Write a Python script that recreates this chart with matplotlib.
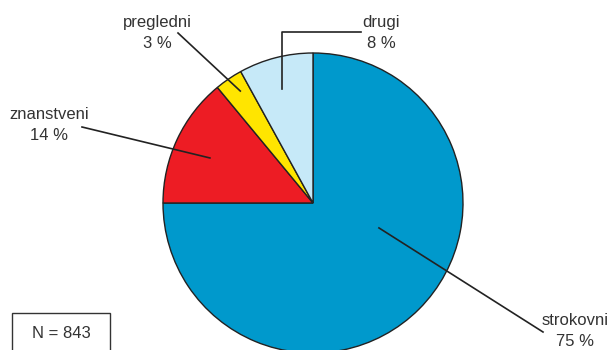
import numpy as np
import matplotlib.pyplot as plt
from matplotlib.patches import Rectangle

plt.rcParams['font.family'] = ['Liberation Sans', 'DejaVu Sans']

labels = ['strokovni', 'znanstveni', 'pregledni', 'drugi']
shares = [75, 14, 3, 8]
colors = ['#0099cc', '#ed1c24', '#ffe500', '#c6e9f8']
n_total = 843

# leader line anchors inside the pie (angle in deg, fraction of radius)
anchor_ang = [-20.7, 156.4, 123.0, 105.0]
anchor_r = [0.47, 0.75, 0.89, 0.79]
# label positions (pixels, y from bottom)
text_xy = [(575, 19), (49, 225), (157, 317), (381, 317)]

fig = plt.figure(figsize=(6.09, 3.5), dpi=100)
ax = fig.add_axes([0, 0, 1, 1])

cx, cy, R = 313, 147, 150
ax.pie(shares, colors=colors, startangle=90, counterclock=False,
       center=(cx, cy), radius=R, frame=True,
       wedgeprops=dict(edgecolor='#222222', linewidth=1.0))
ax.set_xlim(0, 609)
ax.set_ylim(0, 350)
ax.set_aspect('equal')
ax.axis('off')

for i, lab in enumerate(labels):
    a = np.deg2rad(anchor_ang[i])
    x0 = cx + anchor_r[i] * R * np.cos(a)
    y0 = cy + anchor_r[i] * R * np.sin(a)
    tx, ty = text_xy[i]
    ax.text(tx, ty, f'{lab}\n{shares[i]} %', ha='center', va='center',
            fontsize=12, color='#333333', linespacing=1.45)
    if lab == 'drugi':
        ax.plot([x0, x0, 361], [y0, 318, 318], color='#222222', lw=1.2)
    elif lab == 'pregledni':
        ax.plot([x0, 178], [y0, 317], color='#222222', lw=1.2)
    elif lab == 'znanstveni':
        ax.plot([x0, 82], [y0, 223], color='#222222', lw=1.2)
    else:
        ax.plot([x0, 543], [y0, 18], color='#222222', lw=1.2)

ax.add_patch(Rectangle((12, -5), 98, 42, fc='white', ec='#333333', lw=1.0))
ax.text(61, 17, f'N = {n_total}', ha='center', va='center',
        fontsize=12, color='#333333')

fig.savefig('out.png', dpi=100)
